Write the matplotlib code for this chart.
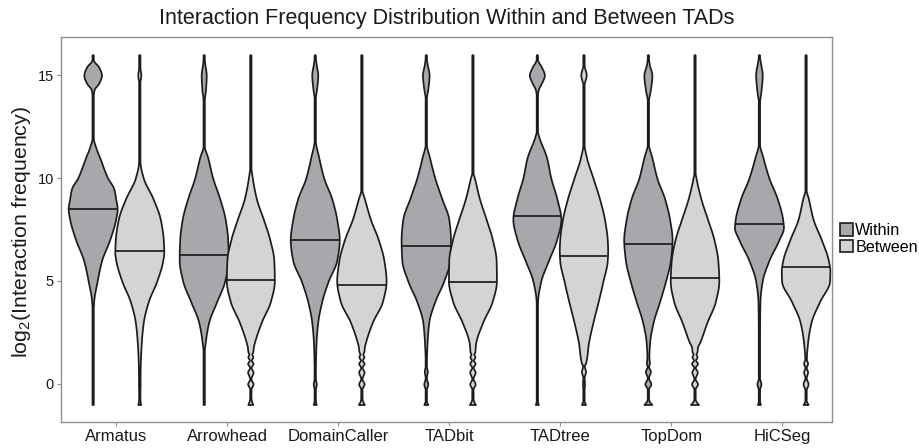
import numpy as np
import matplotlib
matplotlib.use("Agg")
import matplotlib.pyplot as plt
from matplotlib.patches import Patch

plt.rcParams['font.family'] = ['Liberation Sans', 'DejaVu Sans']

# TAD callers on the x axis
methods = ['Armatus', 'Arrowhead', 'DomainCaller', 'TADbit', 'TADtree', 'TopDom', 'HiCSeg']
groups = ['Within', 'Between']

# median log2 interaction frequency per caller
within_medians = [8.50, 6.25, 6.97, 6.68, 8.14, 6.78, 7.79]
between_medians = [6.44, 5.03, 4.79, 4.94, 6.20, 5.13, 5.66]

# density outlines: levels (log2 frequency) and half-widths of each violin
armatus_in_y = [-1, -0.8, 3.5, 4, 5, 6, 7, 8, 8.5, 9, 9.5, 10, 11, 11.5, 12, 13.9, 14.3, 14.6, 15.0, 15.4, 15.7, 16]
armatus_in_w = [0.5, 0.5, 0.5, 1, 4.5, 9, 17, 23, 24.5, 23, 21, 15, 7, 3, 0.5, 0.5, 1.5, 6, 8.8, 6, 1, 0]
armatus_out_y = [-1, -0.85, -0.6, 0, 0.5, 1, 2, 3, 4, 5, 6, 6.4, 7, 8, 9, 10, 10.8, 12, 14.6, 15, 15.4, 16]
armatus_out_w = [1.5, 0.8, 0.5, 0.8, 0.8, 1, 2, 4, 9, 17.5, 23.5, 24.5, 24, 21, 13.7, 4, 0.7, 0.5, 0.5, 1.5, 0.5, 0]

arrowhead_in_y = [-1, 1.5, 2, 3, 4, 5, 6, 6.2, 7, 8, 9, 10, 11, 11.6, 13.7, 14.3, 15, 15.5, 16]
arrowhead_in_w = [0.5, 0.5, 1.5, 5, 13, 21, 24.5, 24.5, 24, 21.5, 16, 9, 4, 0.5, 0.5, 1.8, 2.5, 1.2, 0]
arrowhead_out_y = [-1, -0.8, -0.6, -0.25, 0, 0.25, 0.58, 0.8, 1.0, 1.15, 1.32, 1.45, 1.58, 1.8, 2,
                   3, 4, 5, 6, 7, 8, 9, 10, 10.6, 15.9, 16]
arrowhead_out_w = [2.5, 1.0, 0.5, 0.6, 2.7, 0.6, 2.7, 0.7, 2.7, 1.0, 2.5, 1.5, 2.5, 3, 4,
                   11, 20, 24, 23.5, 19.5, 13, 6, 2, 0.5, 0.5, 0]

domaincaller_in_y = [-1, -0.8, -0.3, 0, 0.3, 1, 2, 3, 4, 5, 6, 7, 8, 9, 10, 11, 11.9, 13.8, 14.4, 15, 15.5, 16]
domaincaller_in_w = [1.5, 0.5, 0.5, 1.5, 0.5, 0.7, 1.3, 3, 7, 13.5, 22, 24.5, 22, 17, 9, 4, 0.5, 0.5, 2, 3, 1.5, 0]
domaincaller_out_y = [-1, -0.8, -0.6, -0.25, 0, 0.25, 0.58, 0.8, 1.0, 1.15, 1.32, 1.45, 1.58, 1.8, 2,
                      3, 4, 5, 6, 7, 8, 9, 9.45, 15.9, 16]
domaincaller_out_w = [3, 1, 0.5, 0.6, 2.7, 0.6, 2.7, 0.7, 2.7, 1.0, 2.5, 1.5, 2.5, 3, 4,
                      11, 21, 24.7, 22.5, 17, 9, 3, 0.5, 0.5, 0]

tadbit_in_y = [-1, -0.8, -0.3, 0, 0.3, 0.6, 0.9, 2, 3, 4, 5, 6, 7, 8, 9, 10, 11, 11.7, 13.8, 14.4, 15, 15.5, 16]
tadbit_in_w = [2, 0.5, 0.5, 2, 0.5, 1.5, 0.5, 1.3, 3, 9, 18, 24, 24.7, 23, 16, 9, 3.7, 0.5, 0.5, 2.2, 3.3, 1.5, 0]
tadbit_out_y = [-1, -0.8, -0.6, -0.25, 0, 0.25, 0.58, 0.8, 1.0, 1.15, 1.32, 1.45, 1.58, 1.8, 2,
                3, 4, 5, 6, 7, 8, 9, 10, 10.3, 15.9, 16]
tadbit_out_w = [3, 1, 0.5, 0.6, 2.7, 0.6, 2.7, 0.7, 2.7, 1.0, 2.5, 1.5, 2.5, 2.8, 3.3,
                10.3, 19.7, 24, 23.7, 20, 13.7, 7, 2, 0.5, 0.5, 0]

tadtree_in_y = [-1, -0.8, 3.5, 4, 5, 6, 7, 8, 9, 10, 11, 12, 12.3, 14.0, 14.3, 14.6, 15.0, 15.4, 15.7, 16]
tadtree_in_w = [1.5, 0.5, 0.5, 0.7, 4, 11.7, 19.7, 24, 20, 14, 9.7, 2, 0.5, 0.5, 1.5, 4.5, 7.5, 4.5, 1, 0]
tadtree_out_y = [-1, -0.8, -0.3, 0, 0.3, 0.6, 0.9, 1, 2, 3, 4, 5, 6, 6.5, 7, 8, 9, 10, 11, 11.7, 14.5, 15, 15.5, 16]
tadtree_out_w = [2, 0.6, 0.6, 1, 0.6, 2, 0.8, 2, 5, 9.5, 14.7, 19.5, 23.8, 24.2, 23.8, 21, 16, 9.5, 3, 0.5,
                 0.5, 2.7, 0.5, 0]

topdom_in_y = [-1, -0.8, -0.6, -0.25, 0, 0.3, 0.6, 0.85, 1.0, 1.3, 2, 3, 4, 5, 6, 7, 8, 9, 10, 11, 11.7,
               13.7, 14.3, 15, 15.5, 16]
topdom_in_w = [4, 1, 0.5, 0.6, 3, 0.6, 2.5, 0.7, 1.5, 1, 1.7, 5.3, 11.7, 17.7, 22.5, 24.2, 21.7, 16.7, 9, 4, 0.5,
               0.5, 2.5, 4, 1.5, 0]
topdom_out_y = [-1, -0.8, -0.6, -0.25, 0, 0.25, 0.58, 0.8, 1.0, 1.15, 1.32, 1.45, 1.58, 1.8, 2,
                3, 4, 5, 6, 7, 8, 9, 10, 10.3, 15.9, 16]
topdom_out_w = [4, 1, 0.5, 0.6, 3, 0.6, 2.7, 0.7, 3, 1, 2.5, 1.5, 2.5, 3, 5,
                12.5, 20.8, 24.3, 23.3, 19.5, 13, 6.3, 1.5, 0.5, 0.5, 0]

hicseg_in_y = [-1, -0.8, -0.3, 0, 0.3, 3, 4, 5, 6, 7, 7.6, 8, 9, 10, 11, 11.7, 13.6, 14.3, 15, 15.6, 16]
hicseg_in_w = [1.5, 0.5, 0.5, 2, 0.5, 0.7, 1, 3.3, 10, 20, 24.5, 23.7, 18.3, 10, 4, 0.5, 0.5, 2.2, 3.3, 1.5, 0]
hicseg_out_y = [-1, -0.8, -0.3, 0, 0.3, 0.58, 0.8, 1, 1.2, 2, 3, 4, 5, 5.5, 6, 7, 8, 9, 9.45, 15.9, 16]
hicseg_out_w = [2.5, 0.6, 0.6, 2.5, 0.6, 2, 0.6, 2, 0.8, 2, 5.5, 14, 24, 24.3, 22.8, 15.8, 7.5, 2.8, 0.5, 0.5, 0]

within_profiles = [(armatus_in_y, armatus_in_w), (arrowhead_in_y, arrowhead_in_w),
                   (domaincaller_in_y, domaincaller_in_w), (tadbit_in_y, tadbit_in_w),
                   (tadtree_in_y, tadtree_in_w), (topdom_in_y, topdom_in_w), (hicseg_in_y, hicseg_in_w)]
between_profiles = [(armatus_out_y, armatus_out_w), (arrowhead_out_y, arrowhead_out_w),
                    (domaincaller_out_y, domaincaller_out_w), (tadbit_out_y, tadbit_out_w),
                    (tadtree_out_y, tadtree_out_w), (topdom_out_y, topdom_out_w), (hicseg_out_y, hicseg_out_w)]

WITHIN_COLOR = '#a7a8ab'
BETWEEN_COLOR = '#d3d4d6'
EDGE_COLOR = '#1f1b1c'
FRAME_COLOR = '#8f8f8f'
WIDTH_SCALE = 0.009   # density units -> x axis units
DODGE = 0.21
MIN_HALF = 0.65
LW = 1.25


def pchip(x, y, xn):
    """Monotone cubic curve through the outline knots (keeps bumps without overshoot)."""
    x = np.asarray(x, float)
    y = np.asarray(y, float)
    h = np.diff(x)
    d = np.diff(y) / h
    m = np.zeros_like(y)
    m[0], m[-1] = d[0], d[-1]
    for k in range(1, len(x) - 1):
        if d[k - 1] * d[k] > 0:
            w1 = 2 * h[k] + h[k - 1]
            w2 = h[k] + 2 * h[k - 1]
            m[k] = (w1 + w2) / (w1 / d[k - 1] + w2 / d[k])
    idx = np.clip(np.searchsorted(x, xn) - 1, 0, len(x) - 2)
    t = (xn - x[idx]) / h[idx]
    h00 = 2 * t**3 - 3 * t**2 + 1
    h10 = t**3 - 2 * t**2 + t
    h01 = -2 * t**3 + 3 * t**2
    h11 = t**3 - t**2
    return h00 * y[idx] + h10 * h[idx] * m[idx] + h01 * y[idx + 1] + h11 * h[idx] * m[idx + 1]


def draw_violin(ax, center, levels, widths, median, color):
    yy = np.linspace(levels[0], levels[-1], 1200)
    ww = np.maximum(pchip(levels, widths, yy), 0)
    # keep the thin tails visible as a narrow line
    ww = np.where((yy < levels[-1] - 0.02), np.maximum(ww, MIN_HALF), ww) * WIDTH_SCALE
    ax.fill_betweenx(yy, center - ww, center + ww, facecolor=color,
                     edgecolor=EDGE_COLOR, linewidth=LW, zorder=2)
    hw = max(pchip(levels, widths, np.array([median]))[0], MIN_HALF) * WIDTH_SCALE
    ax.plot([center - hw, center + hw], [median, median], color=EDGE_COLOR,
            linewidth=LW, solid_capstyle='butt', zorder=3)


fig = plt.figure(figsize=(9.2, 4.48), dpi=100)
ax = fig.add_axes([61 / 920, 26 / 448, 771 / 920, 385 / 448])

positions = np.arange(1, len(methods) + 1)
for i, pos in enumerate(positions):
    lv, wd = within_profiles[i]
    draw_violin(ax, pos - DODGE, lv, wd, within_medians[i], WITHIN_COLOR)
    lv, wd = between_profiles[i]
    draw_violin(ax, pos + DODGE, lv, wd, between_medians[i], BETWEEN_COLOR)

ax.set_xlim(0.505, 7.448)
ax.set_ylim(-1.85, 16.85)
ax.set_xticks(positions)
ax.set_xticklabels(methods, fontsize=12)
ax.set_yticks([0, 5, 10, 15])
ax.set_yticklabels(['0', '5', '10', '15'], fontsize=10.5)
ax.tick_params(axis='both', length=3, width=0.8, color=FRAME_COLOR, pad=2, labelcolor='#1a1a1a')
for sp in ax.spines.values():
    sp.set_color(FRAME_COLOR)
    sp.set_linewidth(1.0)

fig.text(447 / 920, 1 - 24 / 448, 'Interaction Frequency Distribution Within and Between TADs',
         ha='center', va='baseline', fontsize=15.5, color='#1a1a1a')
fig.text(22 / 920, 1 - 231.5 / 448, r'$\mathregular{log_2}$(Interaction frequency)',
         ha='center', va='center', rotation=90, fontsize=15.4, color='#1a1a1a')

handles = [Patch(facecolor=WITHIN_COLOR, edgecolor=EDGE_COLOR, linewidth=1.2),
           Patch(facecolor=BETWEEN_COLOR, edgecolor=EDGE_COLOR, linewidth=1.2)]
fig.legend(handles, groups, loc='center left', bbox_to_anchor=(840 / 920, 1 - 239 / 448),
           frameon=False, fontsize=11.6, handlelength=0.8, handleheight=0.8,
           handletextpad=0.15, labelspacing=0.1, borderpad=0, borderaxespad=0)

fig.savefig('out.png', dpi=100)
